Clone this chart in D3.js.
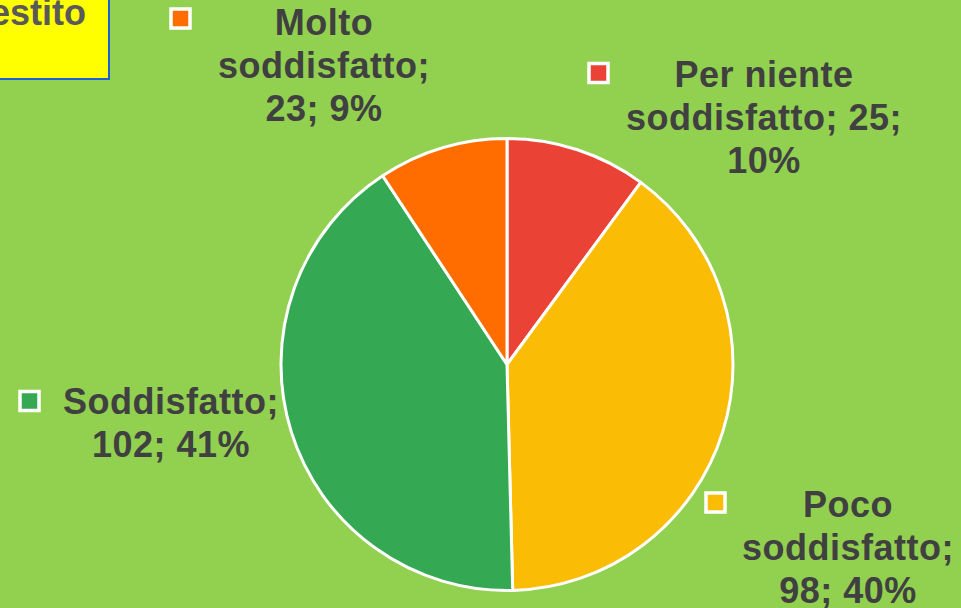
<!DOCTYPE html>
<html><head><meta charset="utf-8">
<script src="https://cdn.jsdelivr.net/npm/d3@7"></script>
<style>html,body{margin:0;padding:0;overflow:hidden;background:#92D050;}</style>
</head><body>
<svg id="c" width="961" height="608"></svg>
<script>
const categories = ["Per niente soddisfatto", "Poco soddisfatto", "Soddisfatto", "Molto soddisfatto"];
const values = [25, 98, 102, 23];
const percents = ["10%", "40%", "41%", "9%"];
const colors = ["#EA4335", "#FBBC05", "#34A853", "#FF6D00"];
const labelLines = [
  ["Per niente", "soddisfatto; 25;", "10%"],
  ["Poco", "soddisfatto;", "98; 40%"],
  ["Soddisfatto;", "102; 41%"],
  ["Molto", "soddisfatto;", "23; 9%"]
];
const labelPos = [
  {x: 764, y: 87, mx: 598.5, my: 73},
  {x: 848, y: 517, mx: 715.5, my: 502.5},
  {x: 171, y: 414, mx: 29.5, my: 401},
  {x: 324, y: 35, mx: 180.5, my: 18.5}
];

const svg = d3.select("#c");
svg.append("rect").attr("width", 961).attr("height", 608).attr("fill", "#92D050");

// title box (cut off)
svg.append("rect").attr("x", -10).attr("y", -10).attr("width", 119).attr("height", 89)
  .attr("fill", "#FFFF00").attr("stroke", "#1F5FD5").attr("stroke-width", 2);
svg.append("text").attr("x", 86).attr("y", 25).attr("text-anchor", "end")
  .attr("font-family", "Liberation Sans, Arial, sans-serif").attr("font-weight", "bold")
  .attr("font-size", 36).attr("fill", "#595959").text("estito");

const cx = 507, cy = 364.5, r = 226;
const pie = d3.pie().sort(null).value(d => d)(values);
const arc = d3.arc().innerRadius(0).outerRadius(r);
const g = svg.append("g").attr("transform", `translate(${cx},${cy})`);
g.selectAll("path").data(pie).join("path")
  .attr("d", arc).attr("fill", (d, i) => colors[i])
  .attr("stroke", "#fff").attr("stroke-width", 3).attr("stroke-linejoin", "round");

labelLines.forEach((lines, i) => {
  const p = labelPos[i];
  svg.append("rect").attr("x", p.mx - 9.5).attr("y", p.my - 9.5).attr("width", 19).attr("height", 19)
    .attr("fill", colors[i]).attr("stroke", "#fff").attr("stroke-width", 3.5);
  const t = svg.append("text").attr("text-anchor", "middle")
    .attr("font-family", "Liberation Sans, Arial, sans-serif").attr("font-weight", "bold")
    .attr("font-size", 36).attr("letter-spacing", 0.5).attr("fill", "#404040");
  lines.forEach((l, j) => {
    t.append("tspan").attr("x", p.x).attr("y", p.y + j * 43).text(l);
  });
});
</script>
</body></html>
